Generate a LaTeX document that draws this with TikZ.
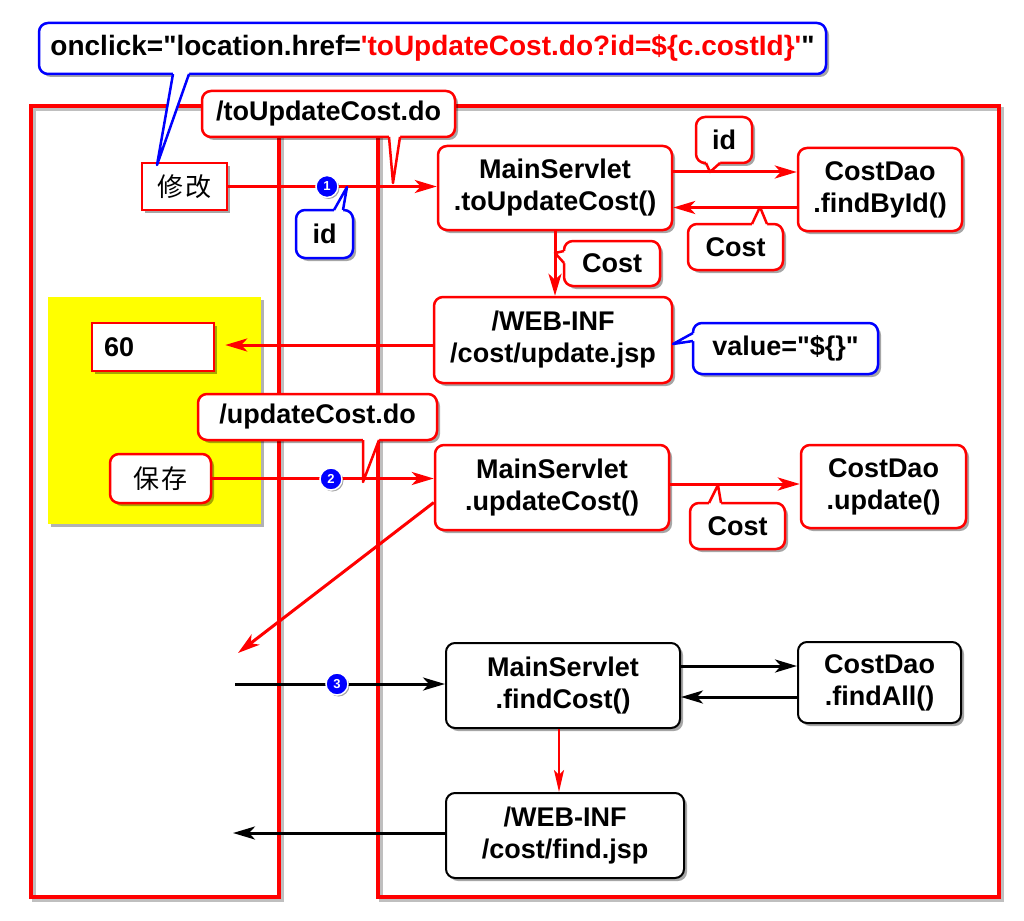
\documentclass[tikz,border=0pt]{standalone}
\usepackage{fontspec}
\setmainfont{Liberation Sans}[Ligatures=TeXOff]
\newfontfamily\cjk{Noto Sans CJK SC}
\usetikzlibrary{shadows,arrows.meta,calc}
\definecolor{pred}{RGB}{255,0,0}
\definecolor{pblue}{RGB}{0,0,255}
\definecolor{pyellow}{RGB}{255,255,0}
\newcommand\callptr[6]{%
  \fill[white] #3 -- #2 -- #6 -- #4 -- #5 -- cycle;
  \draw[#1, line width=2.5pt, line join=round] #2 -- #6 -- #4;}
\begin{document}
\begin{tikzpicture}[x=1pt,y=-1pt,
  shad/.style={drop shadow={shadow xshift=3pt, shadow yshift=-3pt, opacity=0.35, fill=black}},
  box/.style={draw=pred, line width=2.5pt, fill=white, rounded corners=9pt, align=center,
    inner sep=0pt, font=\fontsize{27}{32}\selectfont\bfseries, shad},
  bbox/.style={box, draw=black, line width=2pt},
  cjkbox/.style={box, font=\cjk\fontsize{26}{26}\selectfont},
  frame/.style={draw=pred, line width=3.5pt},
  frameshadow/.style={draw=black, opacity=0.25, line width=3.5pt},
  rarr/.style={draw=pred, line width=3pt, -{Stealth[length=22pt,width=13pt,inset=6pt]}},
  rarrthin/.style={draw=pred, line width=2pt, -{Stealth[length=22pt,width=10pt,inset=5pt]}},
  barr/.style={draw=black, line width=3pt, -{Stealth[length=22pt,width=13pt,inset=6pt]}},
  numc/.style={circle, fill=pblue, draw=white, line width=1.5pt, text=white, inner sep=0pt,
    minimum size=22pt, font=\fontsize{13}{13}\selectfont\bfseries,
    drop shadow={shadow xshift=1.5pt, shadow yshift=-1.5pt, opacity=0.35, fill=black}}
]
\fill[white] (0,0) rectangle (1024,920);
\useasboundingbox (0,0) rectangle (1024,920);

% frames
\draw[frameshadow] (34,109) rectangle (282,900);
\draw[frameshadow] (381,109) rectangle (1002,900);
\draw[frame] (31,106) rectangle (279,897);
\draw[frame] (378,106) rectangle (999,897);

% yellow panel
\fill[black, opacity=0.3] (51,300) rectangle (264,527);
\fill[pyellow] (48,297) rectangle (261,524);

% boxes
\node[cjkbox, sharp corners, minimum width=85pt, minimum height=47pt] (edit) at (184.5,186.5) {修\hspace{3pt}改};
\node[box, minimum width=234pt, minimum height=84pt] (ms1) at (555,188) {MainServlet\\.toUpdateCost()};
\node[box, minimum width=164pt, minimum height=83pt] (dao1) at (880,189.5) {CostDao\\.findById()};
\node[box, minimum width=238pt, minimum height=86pt] (jsp1) at (553,340) {/WEB-INF\\/cost/update.jsp};
\node[box, sharp corners, minimum height=48pt, text width=98pt, inner xsep=12pt, align=left] (v60) at (153,347) {60};
\node[cjkbox, minimum width=101pt, minimum height=49pt] (save) at (160.5,478.5) {保\hspace{3pt}存};
\node[box, minimum width=234pt, minimum height=85pt] (ms2) at (552,487.5) {MainServlet\\.updateCost()};
\node[box, minimum width=165pt, minimum height=83pt] (dao2) at (883.5,486.5) {CostDao\\.update()};
\node[bbox, minimum width=234pt, minimum height=85pt] (ms3) at (563,685.5) {MainServlet\\.findCost()};
\node[bbox, minimum width=163pt, minimum height=81pt] (dao3) at (879.5,682.5) {CostDao\\.findAll()};
\node[bbox, minimum width=238pt, minimum height=85pt] (jsp3) at (565,835.5) {/WEB-INF\\/cost/find.jsp};

% connectors
\draw[rarr] (edit.east) -- (edit.east -| ms1.west);
\node[numc] (c1) at (327,186.5) {1};
\draw[rarr] ([yshift=16pt]ms1.east) -- ([yshift=16pt]ms1.east -| dao1.west);
\draw[rarr] ([yshift=-18pt]dao1.west) -- ([yshift=-18pt]dao1.west -| ms1.east);
\draw[rarr] (ms1.south) -- (ms1.south |- jsp1.north);
\draw[rarr, shorten >=10pt] ([yshift=-5pt]jsp1.west) -- ([yshift=-5pt]jsp1.west -| v60.east);
\draw[rarr] (save.east) -- (save.east -| ms2.west);
\node[numc] (c2) at (331,479) {2};
\draw[rarr] ([yshift=3.5pt]ms2.east) -- ([yshift=3.5pt]ms2.east -| dao2.west);
\coordinate (r2) at (238,653);
\draw[rarr] ([yshift=-15pt]ms2.west) -- (r2);
\coordinate (in3) at (235,684);
\draw[barr] (in3) -- (in3 -| ms3.west);
\node[numc] (c3) at (337,684) {3};
\draw[barr] ([yshift=19.5pt]ms3.east) -- ([yshift=19.5pt]ms3.east -| dao3.west);
\draw[barr] ([yshift=-14.5pt]dao3.west) -- ([yshift=-14.5pt]dao3.west -| ms3.east);
\draw[rarrthin] ([xshift=-4pt]ms3.south) -- ([xshift=-4pt]ms3.south |- jsp3.north);
\coordinate (out3) at (233,833);
\draw[barr] ([yshift=2.5pt]jsp3.west) -- (out3);

% callouts
\node[box, draw=pblue, minimum width=787pt, minimum height=51pt, font=\fontsize{28}{32}\selectfont\bfseries] (onclick) at (432.5,48.5)
  {onclick="location.href=\textcolor{pred}{'toUpdateCost.do?id=\$\{c.costId\}'}"};
\callptr{pblue}{(173,74)}{(173,70)}{(189,74)}{(189,70)}{(157,165)}

\node[box, minimum width=253pt, minimum height=46pt] (toupd) at (328.5,114) {/toUpdateCost.do};
\callptr{pred}{(389,137)}{(389,133)}{(400,137)}{(400,133)}{(393,183)}

\node[box, draw=pblue, minimum width=57pt, minimum height=48pt] (id1) at (324.5,234) {id};
\callptr{pblue}{(334,210)}{(334,214)}{(343,210)}{(343,214)}{(347,187)}

\node[box, minimum width=56pt, minimum height=46pt] (id2) at (724,140) {id};
\callptr{pred}{(706,163)}{(706,159)}{(720,163)}{(720,159)}{(710,172)}

\node[box, minimum width=95pt, minimum height=46pt] (cost1) at (735.5,247) {Cost};
\callptr{pred}{(752,224)}{(752,228)}{(767,224)}{(767,228)}{(760,207)}

\node[box, minimum width=96pt, minimum height=45pt] (cost2) at (612,263.5) {Cost};
\callptr{pred}{(564,251)}{(568,251)}{(564,263)}{(568,263)}{(555,253)}

\node[box, draw=pblue, minimum width=185pt, minimum height=51pt] (value) at (785.5,348.5) {value="\$\{\}"};
\callptr{pblue}{(693,333)}{(697,333)}{(693,341)}{(697,341)}{(673,344)}

\node[box, minimum width=239pt, minimum height=46pt] (updcost) at (317.5,417) {/updateCost.do};
\callptr{pred}{(363,440)}{(363,436)}{(379,440)}{(379,436)}{(363,482)}

\node[box, minimum width=95pt, minimum height=46pt] (cost3) at (737.5,526) {Cost};
\callptr{pred}{(709,503)}{(709,507)}{(721,503)}{(721,507)}{(718,485)}
\end{tikzpicture}
\end{document}
